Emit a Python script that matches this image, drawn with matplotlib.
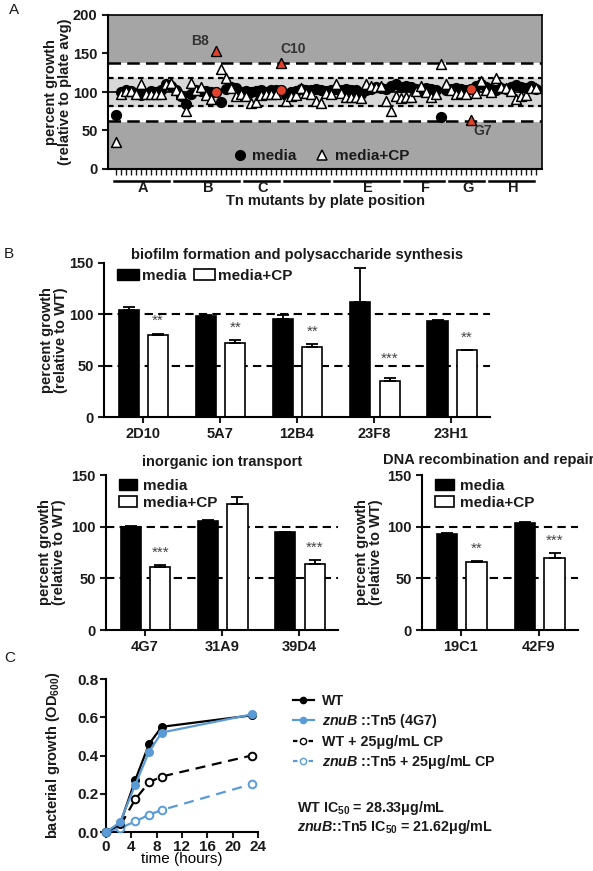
import numpy as np
import matplotlib.pyplot as plt
import matplotlib.transforms as mtransforms
from matplotlib.lines import Line2D
from matplotlib.patches import Patch

plt.rcParams['font.family'] = ['Liberation Sans', 'DejaVu Sans']
plt.rcParams['font.weight'] = 'bold'
plt.rcParams['mathtext.fontset'] = 'custom'
plt.rcParams['mathtext.rm'] = 'Liberation Sans:bold'
plt.rcParams['mathtext.it'] = 'Liberation Sans:italic:bold'
plt.rcParams['mathtext.bf'] = 'Liberation Sans:bold'
plt.rcParams['axes.linewidth'] = 1.5
plt.rcParams['text.color'] = '#1a1a1a'
plt.rcParams['xtick.color'] = '#1a1a1a'
plt.rcParams['ytick.color'] = '#1a1a1a'

# ---- panel A: screen of Tn mutants ----
plate_rows = ['A', 'B', 'C', 'D', 'E', 'F', 'G', 'H']
row_sizes = [12, 14, 8, 10, 14, 9, 8, 10]
media_A = [70, 100, 102, 101, 97, 96, 98, 101, 100, 103, 110, 108,
           103, 95, 85, 98, 103, 101, 101, 100, 100, 87, 104, 106, 105, 100,
           101, 100, 101, 102, 100, 103, 102, 103,
           96, 100, 101, 104, 103, 102, 104, 103, 101, 103,
           104, 102, 104, 103, 102, 97, 103, 104, 106, 105, 104, 108, 110, 107,
           108, 106, 104, 103, 105, 104, 103, 68, 103,
           104, 105, 104, 102, 104, 108, 110, 106,
           104, 103, 105, 104, 106, 109, 107, 105, 108, 104]
cp_A = [35, 97, 101, 101, 97, 110, 97, 97, 97, 98, 110, 112,
        102, 97, 75, 112, 102, 106, 96, 91, 153, 130, 118, 105, 95, 97,
        95, 86, 87, 96, 98, 97, 98, 138,
        88, 95, 96, 105, 99, 97, 88, 86, 99, 98,
        110, 99, 94, 93, 93, 92, 110, 108, 106, 108, 88, 75, 95, 92,
        93, 93, 101, 108, 100, 93, 98, 136, 110,
        102, 98, 99, 98, 64, 99, 114, 102,
        100, 118, 106, 105, 101, 91, 95, 96, 105, 105]
hits = ['B8', 'C10', 'G7']
hit_idx = [20, 33, 71]

# ---- panel B: bar charts ----
biofilm = ['2D10', '5A7', '12B4', '23F8', '23H1']
biofilm_media = [104.5, 98.3, 95.8, 112, 93.5]
biofilm_media_err = [3, 1, 3.2, 33.5, 0.5]
biofilm_cp = [80.3, 72.3, 68, 35.5, 64.9]
biofilm_cp_err = [1, 3, 3.2, 2, 0.7]
biofilm_sig = ['**', '**', '**', '***', '**']

ion = ['4G7', '31A9', '39D4']
ion_media = [100, 105.5, 94.7]
ion_media_err = [0.5, 1.2, 0.5]
ion_cp = [61.2, 122, 63.8]
ion_cp_err = [1.3, 7, 3.9]
ion_sig = ['***', '', '***']

dna = ['19C1', '42F9']
dna_media = [93, 103.5]
dna_media_err = [0.6, 0.6]
dna_cp = [66, 70]
dna_cp_err = [1, 4.5]
dna_sig = ['**', '***']

# ---- panel C: growth curves ----
hours = [0, 2.2, 4.6, 6.8, 8.8, 23]
wt = [0, 0.04, 0.27, 0.46, 0.55, 0.61]
znub = [0, 0.05, 0.245, 0.42, 0.52, 0.615]
wt_cp = [0, 0.03, 0.17, 0.26, 0.29, 0.40]
znub_cp = [0, 0.02, 0.055, 0.09, 0.115, 0.25]

W, H = 593, 871
fig = plt.figure(figsize=(W / 100, H / 100), dpi=100)


def px_axes(l, t, r, b):
    return fig.add_axes([l / W, 1 - b / H, (r - l) / W, (b - t) / H])


red = '#e2422c'
blue = '#5b9bd5'
fs = 10.5

# ================= A =================
axA = px_axes(108, 15, 542, 169)
axA.set_facecolor('#a5a5a5')
axA.axhspan(62, 138, color='white', zorder=0)
axA.axhspan(82, 118, color='#d8d8d8', zorder=0)
for yv in (62, 138):
    axA.axhline(yv, color='k', lw=1.8, ls=(0, (5, 2.5)), zorder=1)
for yv in (82, 118):
    axA.axhline(yv, color='k', lw=1.6, ls=(0, (2.5, 2)), zorder=1)
axA.axhline(100, color='k', lw=1.2, zorder=1)

x = np.arange(len(media_A))
axA.scatter(x, media_A, s=50, color='black', zorder=3)
axA.scatter(x, cp_A, s=50, marker='^', facecolor='white', edgecolor='black',
            linewidth=1.1, zorder=4)
axA.scatter([x[i] for i in hit_idx], [media_A[i] for i in hit_idx], s=50,
            color=red, edgecolor='black', linewidth=0.8, zorder=5)
axA.scatter([x[i] for i in hit_idx], [cp_A[i] for i in hit_idx], s=50,
            marker='^', color=red, edgecolor='black', linewidth=0.8, zorder=5)
offsets = [(-11, 7), (9, 10), (9, -8)]
for name, i, off in zip(hits, hit_idx, offsets):
    axA.annotate(name, (x[i], cp_A[i]), xytext=off, textcoords='offset points',
                 ha='center', va='center', fontsize=10, color='#333333')

axA.set_xlim(-1.5, 85.3)
axA.set_ylim(0, 200)
axA.set_yticks([0, 50, 100, 150, 200])
axA.tick_params(axis='y', labelsize=fs, length=4, width=1.5)
axA.set_xticks(x)
axA.set_xticklabels([])
axA.tick_params(axis='x', length=4.5, width=1)
axA.spines['top'].set_linestyle((0, (1, 1)))
axA.spines['top'].set_linewidth(1.2)
axA.spines['bottom'].set_linestyle((0, (1.5, 1)))
axA.spines['right'].set_linewidth(1.2)

trans = mtransforms.blended_transform_factory(axA.transData, axA.transAxes)
start = 0
for name, size in zip(plate_rows, row_sizes):
    axA.plot([start - 0.3, start + size - 1.3], [-0.075, -0.075], color='k',
             lw=1.8, transform=trans, clip_on=False)
    if name != 'D':
        axA.text(start + (size - 1) / 2, -0.125, name, transform=trans,
                 ha='center', va='center', fontsize=fs)
    start += size
axA.text(0.5, -0.205, 'Tn mutants by plate position', transform=axA.transAxes,
         ha='center', va='center', fontsize=fs)
fig.text(58 / W, 1 - 92 / H, 'percent growth\n(relative to plate avg)',
         rotation=90, ha='center', va='center', fontsize=fs, linespacing=1.05)
hA = [Line2D([], [], ls='none', marker='o', ms=7, color='black'),
      Line2D([], [], ls='none', marker='^', ms=7.5, mfc='white', mec='black',
             mew=1.1)]
axA.legend(hA, ['media', 'media+CP'], ncol=2, frameon=False, loc='center',
           bbox_to_anchor=(0.49, 0.085), fontsize=11, handletextpad=0.3,
           columnspacing=1.2, borderpad=0, handlelength=1)


# ================= B =================
def bar_panel(ax, names, media, media_err, cp, cp_err, sig):
    pos = np.arange(len(names)) + 0.5
    for yv in (100, 50):
        ax.axhline(yv, color='k', lw=1.5, ls=(0, (4, 2.5)), zorder=0)
    zeros = [0] * len(names)
    ax.bar(pos - 0.18, media, 0.26, color='black', edgecolor='black', lw=1.2,
           zorder=2)
    ax.bar(pos + 0.2, cp, 0.26, color='white', edgecolor='black', lw=1.2,
           zorder=2)
    ax.errorbar(pos - 0.18, media, yerr=[zeros, media_err], fmt='none',
                ecolor='black', elinewidth=1.3, capsize=4, capthick=1.3, zorder=3)
    ax.errorbar(pos + 0.2, cp, yerr=[zeros, cp_err], fmt='none',
                ecolor='black', elinewidth=1.3, capsize=4, capthick=1.3, zorder=3)
    for p, v, e, s in zip(pos, cp, cp_err, sig):
        # stars sit above the bar but clear of the 50% dashed line
        ax.text(p + 0.2, max(v + e + 12, 57), s, ha='center', va='center',
                fontsize=11, fontweight='normal', color='#444444')
    ax.set_xlim(0, len(names))
    ax.set_ylim(0, 150)
    ax.set_yticks([0, 50, 100, 150])
    ax.set_xticks(pos)
    ax.set_xticklabels(names)
    ax.tick_params(labelsize=fs, length=4, width=1.5)
    ax.spines['top'].set_visible(False)
    ax.spines['right'].set_visible(False)


sq = [Patch(facecolor='black', edgecolor='black'),
      Patch(facecolor='white', edgecolor='black', lw=1.2)]

axB1 = px_axes(104, 263, 490, 417)
bar_panel(axB1, biofilm, biofilm_media, biofilm_media_err, biofilm_cp,
          biofilm_cp_err, biofilm_sig)
axB1.text(0.5, 1.052, 'biofilm formation and polysaccharide synthesis',
          transform=axB1.transAxes, ha='center', va='center', fontsize=10.5)
axB1.legend(sq, ['media', 'media+CP'], ncol=2, frameon=False, loc='upper left',
            bbox_to_anchor=(0.034, 0.96), fontsize=11, handlelength=1.4,
            handleheight=0.75, handletextpad=0.2, columnspacing=0.5,
            borderpad=0, borderaxespad=0)
fig.text(54 / W, 1 - 340 / H, 'percent growth\n(relative to WT)', rotation=90,
         ha='center', va='center', fontsize=fs, linespacing=1.05)

axB2 = px_axes(106, 475, 338, 630)
bar_panel(axB2, ion, ion_media, ion_media_err, ion_cp, ion_cp_err, ion_sig)
axB2.text(0.5, 1.084, 'inorganic ion transport', transform=axB2.transAxes,
          ha='center', va='center', fontsize=10.5)
axB2.legend(sq, ['media', 'media+CP'], frameon=False, loc='upper left',
            bbox_to_anchor=(0.056, 0.975), fontsize=11, handlelength=1.2,
            handleheight=0.7, handletextpad=0.4, labelspacing=0.2,
            borderpad=0, borderaxespad=0)
fig.text(52 / W, 1 - 552 / H, 'percent growth\n(relative to WT)', rotation=90,
         ha='center', va='center', fontsize=fs, linespacing=1.05)

axB3 = px_axes(422, 475, 578, 630)
bar_panel(axB3, dna, dna_media, dna_media_err, dna_cp, dna_cp_err, dna_sig)
axB3.text(383 / W, 1 - 460 / H, 'DNA recombination and repair',
          transform=fig.transFigure, ha='left', va='center', fontsize=10.5)
axB3.legend(sq, ['media', 'media+CP'], frameon=False, loc='upper left',
            bbox_to_anchor=(0.085, 0.975), fontsize=11, handlelength=1.2,
            handleheight=0.7, handletextpad=0.4, labelspacing=0.2,
            borderpad=0, borderaxespad=0)
fig.text(369 / W, 1 - 552 / H, 'percent growth\n(relative to WT)', rotation=90,
         ha='center', va='center', fontsize=fs, linespacing=1.05)

# ================= C =================
axC = px_axes(106, 679, 258, 832)
axC.plot(hours, wt, '-o', color='black', lw=1.6, ms=5.5, clip_on=False, zorder=4)
axC.plot(hours, znub, '-o', color=blue, lw=1.6, ms=5.5, clip_on=False, zorder=4)
axC.plot(hours, wt_cp, 'o', ls=(0, (4.5, 3)), color='black', mfc='white',
         mew=1.4, lw=1.6, ms=5.5, clip_on=False, zorder=3)
axC.plot(hours, znub_cp, 'o', ls=(0, (4.5, 3)), color=blue, mfc='white',
         mew=1.4, lw=1.6, ms=5.5, clip_on=False, zorder=3)
axC.set_xlim(0, 24)
axC.set_ylim(0, 0.8)
axC.set_xticks(range(0, 25, 4))
axC.set_yticks([0, 0.2, 0.4, 0.6, 0.8])
axC.yaxis.set_major_formatter(plt.FormatStrFormatter('%.1f'))
axC.tick_params(labelsize=11, length=4, width=1.5, pad=1.5)
axC.spines['top'].set_visible(False)
axC.spines['right'].set_visible(False)
axC.set_xlabel('time (hours)', fontsize=11, labelpad=-1)
fig.text(53 / W, 1 - 755 / H, 'bacterial growth (OD$_{600}$)', rotation=90,
         ha='center', va='center', fontsize=fs)

hC = [Line2D([], [], color='black', marker='o', ms=4.5, lw=1.6),
      Line2D([], [], color=blue, marker='o', ms=4.5, lw=1.6),
      Line2D([], [], color='black', marker='o', ms=4.5, mfc='white', lw=1.6,
             ls=(0, (2, 1.5))),
      Line2D([], [], color=blue, marker='o', ms=4.5, mfc='white', lw=1.6,
             ls=(0, (2, 1.5)))]
lC = ['WT', r'$\mathit{znuB}$ ::Tn5 (4G7)', 'WT + 25\u03bcg/mL CP',
      r'$\mathit{znuB}$ ::Tn5 + 25' + '\u03bcg/mL CP']
fig.legend(hC, lC, frameon=False, loc='upper left',
           bbox_to_anchor=(293 / W, 1 - 694 / H), fontsize=10.3,
           handlelength=1.45, handletextpad=0.6, labelspacing=0.3,
           borderpad=0, borderaxespad=0)
fig.text(297 / W, 1 - 808 / H, 'WT IC$_{50}$ = 28.33\u03bcg/mL', ha='left',
         va='center', fontsize=10.3)
fig.text(297 / W, 1 - 827 / H,
         r'$\mathit{znuB}$::Tn5 IC$_{50}$ = 21.62' + '\u03bcg/mL', ha='left',
         va='center', fontsize=10.3)

# panel letters
for lab, px, py in [('A', 14, 10), ('B', 9, 254), ('C', 10, 658)]:
    fig.text(px / W, 1 - py / H, lab, ha='center', va='center', fontsize=11,
             fontweight='normal')

fig.savefig('out.png', dpi=100)
